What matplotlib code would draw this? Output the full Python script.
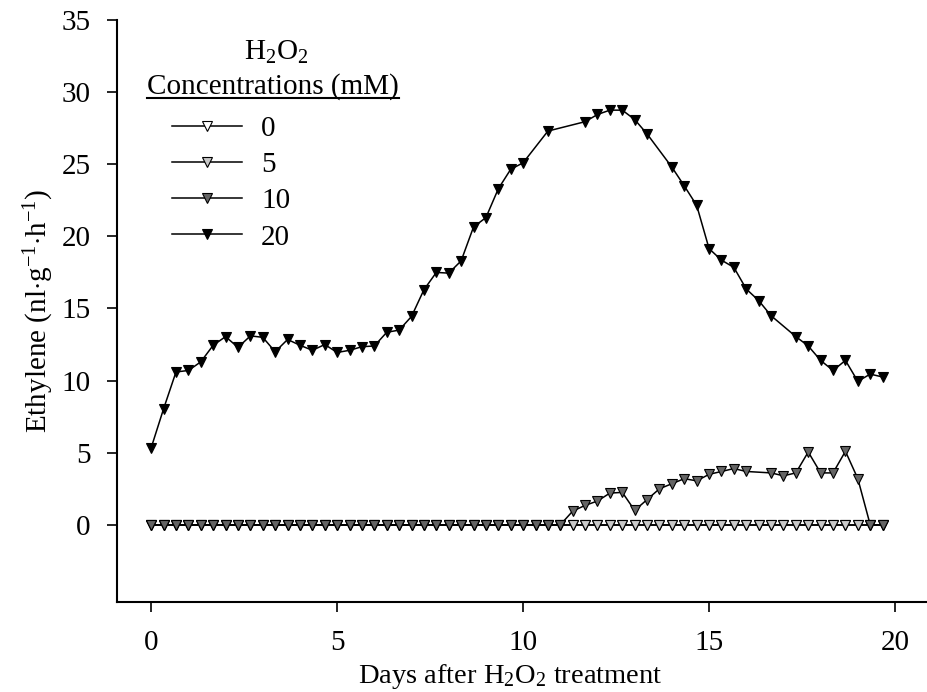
import numpy as np
import matplotlib
matplotlib.use('Agg')
import matplotlib.pyplot as plt
from matplotlib.lines import Line2D

plt.rcParams['font.family'] = ['Liberation Serif', 'DejaVu Serif']
plt.rcParams['mathtext.fontset'] = 'custom'
plt.rcParams['mathtext.rm'] = 'Liberation Serif'
plt.rcParams['mathtext.it'] = 'Liberation Serif:italic'
plt.rcParams['font.size'] = 21

# sampling every 8 h -> index / 3 = days
idx_all = np.arange(60)
zeros_all = [0.0] * 60

idx_10 = list(range(0, 49)) + list(range(50, 60))
val_10 = [0.0] * 34 + [0.95, 1.35, 1.65, 2.2, 2.25, 1.0, 1.75, 2.5, 2.85, 3.2, 3.05,
                      3.5, 3.7, 3.9, 3.7, 3.6, 3.4, 3.6, 5.05, 3.6, 3.6, 5.1, 3.2,
                      0.0, 0.0]

idx_20 = list(range(0, 31)) + [32] + list(range(35, 41)) + list(range(42, 51)) + list(range(52, 60))
val_20 = [5.35, 8.05, 10.6, 10.7, 11.3, 12.45, 13.05, 12.3, 13.1, 13.0, 12.0,
          12.85, 12.45, 12.1, 12.5, 11.95, 12.1, 12.35, 12.4, 13.35, 13.5, 14.45,
          16.3, 17.5, 17.45, 18.3, 20.65, 21.3, 23.3, 24.65, 25.1,
          27.3,
          27.95, 28.45, 28.75, 28.75, 28.1, 27.1,
          24.8, 23.5, 22.15, 19.15, 18.35, 17.85, 16.35, 15.55, 14.5,
          13.05, 12.4, 11.4, 10.7, 11.4, 9.95, 10.45, 10.25]

labels = ['0', '5', '10', '20']
face_colors = ['white', '#c8c8c8', '#646464', 'black']

fig = plt.figure(figsize=(9.27, 6.92), dpi=100)
ax = fig.add_axes([117 / 927, 90 / 692, 1 - 117 / 927, (602 - 20) / 692])

series = [(idx_all, zeros_all), (idx_all, zeros_all), (idx_10, val_10), (idx_20, val_20)]
handles = []
for (ix, vals), lab, fc in zip(series, labels, face_colors):
    days = np.array(ix) / 3.0
    h, = ax.plot(days, vals, color='black', lw=1.1, marker='v', ms=7,
                 mfc=fc, mec='black', mew=0.8, label=lab)
    handles.append(h)

ax.set_xlim(-0.92, 20.86)
ax.set_ylim(-5.35, 35)
ax.set_xticks([0, 5, 10, 15, 20])
ax.set_yticks([0, 5, 10, 15, 20, 25, 30, 35])
ax.spines['top'].set_visible(False)
ax.spines['right'].set_visible(False)
for s in ['left', 'bottom']:
    ax.spines[s].set_linewidth(1.5)
ax.tick_params(direction='out', length=7, width=1.2, labelsize=21)
ax.tick_params(axis='x', pad=13)
ax.tick_params(axis='y', pad=12)

ax.set_xlabel('Days after H$_2$O$_2$ treatment', fontsize=20.5, va='baseline')
ax.xaxis.set_label_coords(0.485, -0.1400)
ax.set_ylabel('Ethylene (nl$\\cdot$g$^{-1}$$\\cdot$h$^{-1}$)', fontsize=21, labelpad=4)

leg = ax.legend(handles=handles, labels=labels, loc='upper left',
                bbox_to_anchor=(172 / 927, 1 - 116 / 692), bbox_transform=fig.transFigure,
                frameon=False, handlelength=2.4, handletextpad=0.65, labelspacing=0.33,
                borderpad=0, borderaxespad=0, numpoints=1, fontsize=21)

fig.text(276 / 927, 1 - 52 / 692, 'H$_2$O$_2$', ha='center', va='center', fontsize=21)
t = fig.text(147 / 927, 1 - 87 / 692, 'Concentrations (mM)', ha='left', va='center', fontsize=21)
fig.canvas.draw()
bb = t.get_window_extent()
fig.add_artist(Line2D([bb.x0, bb.x1], [bb.y0 + 2, bb.y0 + 2], color='black', lw=1.5,
                      transform=None))

fig.savefig('out.png', dpi=100)
